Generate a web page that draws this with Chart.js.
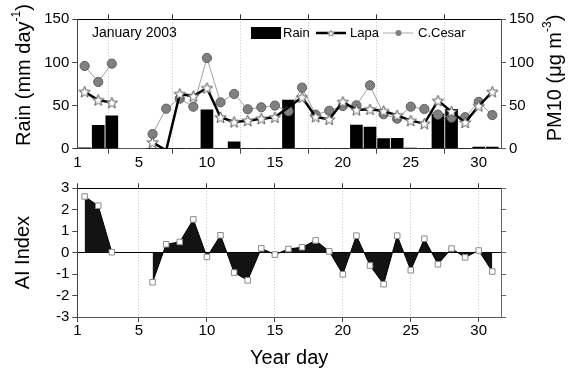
<!DOCTYPE html>
<html>
<head>
<meta charset="utf-8">
<script src="https://cdn.jsdelivr.net/npm/chart.js@4.4.0/dist/chart.umd.min.js"></script>
<style>
  html, body { margin: 0; padding: 0; background: #fff; }
  #wrap { position: relative; width: 572px; height: 378px; }
  .box { position: absolute; left: 0; width: 572px; }
</style>
</head>
<body>
<div id="wrap">
  <div class="box" style="top:0;height:170px"><canvas id="pmChart"></canvas></div>
  <div class="box" style="top:170px;height:208px"><canvas id="aiChart"></canvas></div>
</div>
<script>
// January 2003, one value per day (null = no data)
const days = [1,2,3,4,5,6,7,8,9,10,11,12,13,14,15,16,17,18,19,20,21,22,23,24,25,26,27,28,29,30,31];
const rain = [1, 27, 38, null, null, 0, 0, 0, 0, 45, 0, 8, 0, 0, 0, 56.5,
              0, 0, 0, 0, 27.5, 25, 11.6, 12, 0.5, 0, 40, 45.7, 0, 2, 2];
const lapa = [66, 56.5, 53.4, null, null, 7.4, -2, 63.5, 61, 70.4, 36.4, 31, 32.5, 34.8, 36.4, null,
              59.6, 37, 34, 54.3, 45, 45.7, 43.7, 38.7, 32.5, 29, 55.7, 43, 30.5, 49.5, 66];
const cesar = [95.9, 77.4, 98.6, null, null, 17, 46.4, 58, 48.7, 105.2, 53.8, 63.5, 45.7, 48, 50, 43.4,
               70.8, 39.5, 44, 49.5, 50.3, 73.5, 40, 34.8, 48.7, 46, 39.5, 36, 36.5, 54.3, 39];
const aiIndex = [2.62, 2.19, 0.02, null, null, -1.38, 0.39, 0.5, 1.55, -0.2, 0.81, -0.93, -1.29, 0.2, -0.09, 0.17,
                 0.25, 0.57, 0.06, -1.01, 0.79, -0.6, -1.47, 0.79, -0.82, 0.65, -0.54, 0.19, -0.22, 0.1, -0.88];

const X_MIN = 0.46, X_MAX = 31.64;
const xTickValues = [X_MIN, 5, 10, 15, 20, 25, 30];
const xTickLabels = ['1', '5', '10', '15', '20', '25', '30'];
const pmTicks = [0, 50, 100, 150];
const aiTicks = [-3, -2, -1, 0, 1, 2, 3];

const FONT = '"Liberation Sans", Arial, Helvetica, sans-serif';
const pts = (vals) => days.map((d, i) => ({ x: d, y: vals[i] }));

function makeStar(r, fill, stroke) {
  const s = Math.ceil(r * 2 + 3);
  const c = document.createElement('canvas');
  c.width = c.height = s;
  const g = c.getContext('2d');
  g.beginPath();
  for (let i = 0; i < 10; i++) {
    const rr = i % 2 ? r * 0.42 : r;
    const a = -Math.PI / 2 + i * Math.PI / 5;
    g.lineTo(s / 2 + rr * Math.cos(a), s / 2 + 0.5 + rr * Math.sin(a));
  }
  g.closePath();
  g.fillStyle = fill; g.fill();
  g.lineWidth = 1; g.strokeStyle = stroke; g.stroke();
  return c;
}
const starBig = makeStar(6, '#fff', '#555');
const starSmall = makeStar(3.5, '#fff', '#999');

function setTicks(values) {
  return s => { s.ticks = values.map(v => ({ value: v })); };
}

// rotated (bottom-to-top) title with a superscript part
function drawVTitle(ctx, parts, cx, cy, size) {
  ctx.save();
  ctx.translate(cx, cy);
  ctx.rotate(-Math.PI / 2);
  const base = size + 'px ' + FONT, sup = Math.round(size * 0.6) + 'px ' + FONT;
  let total = 0;
  parts.forEach(p => { ctx.font = p[1] ? sup : base; total += ctx.measureText(p[0]).width; });
  let x = -total / 2;
  ctx.fillStyle = '#000';
  ctx.textBaseline = 'alphabetic';
  parts.forEach(p => {
    ctx.font = p[1] ? sup : base;
    ctx.fillText(p[0], x, p[1] ? size * 0.35 - size * 0.5 : size * 0.35);
    x += ctx.measureText(p[0]).width;
  });
  ctx.restore();
}

const pmDecor = {
  id: 'pmDecor',
  afterDraw(chart) {
    const ctx = chart.ctx, ds = chart.data.datasets;
    drawVTitle(ctx, [['Rain (mm day', 0], ['-1', 1], [')', 0]], 23, 75, 20);
    drawVTitle(ctx, [['PM10 (\u03bcg m', 0], ['-3', 1], [')', 0]], 554, 78, 20);
    ctx.save();
    ctx.font = '14px ' + FONT;
    ctx.fillStyle = '#000';
    ctx.textBaseline = 'middle';
    ctx.fillText('January 2003', 92, 33);
    ctx.font = '13px ' + FONT;
    const y = 33;
    ctx.fillRect(251, 27, 30, 12);
    ctx.fillText(ds[0].label, 283, y);
    ctx.strokeStyle = '#000'; ctx.lineWidth = 2.5;
    ctx.beginPath(); ctx.moveTo(316, y); ctx.lineTo(346, y); ctx.stroke();
    ctx.drawImage(starSmall, 331 - starSmall.width / 2, y - starSmall.height / 2);
    ctx.fillText(ds[1].label, 350, y);
    ctx.strokeStyle = '#aaa'; ctx.lineWidth = 1;
    ctx.beginPath(); ctx.moveTo(383, y); ctx.lineTo(413, y); ctx.stroke();
    ctx.fillStyle = '#808080';
    ctx.beginPath(); ctx.arc(398.5, y, 3, 0, Math.PI * 2); ctx.fill();
    ctx.fillStyle = '#000';
    ctx.fillText(ds[2].label, 418, y);
    ctx.restore();
  }
};

const xBottom = (h, title) => ({
  type: 'linear', position: 'bottom', min: X_MIN, max: X_MAX, offset: false,
  afterBuildTicks: setTicks(xTickValues),
  afterFit: s => { s.height = h; },
  ticks: { font: { family: FONT, size: 15 }, color: '#000', padding: 0, maxRotation: 0,
           callback: (v, i) => xTickLabels[i] },
  grid: { color: '#c4c4c4', drawOnChartArea: true, tickLength: 5, tickColor: '#444', tickBorderDash: [] },
  border: { color: '#555', dash: [1, 2] },
  title: title
});
const xTop = h => ({
  type: 'linear', position: 'top', axis: 'x', min: X_MIN, max: X_MAX, offset: false,
  afterBuildTicks: setTicks(xTickValues),
  afterFit: s => { s.height = h; },
  ticks: { display: false },
  grid: { drawOnChartArea: false, tickLength: 5, tickColor: '#333' },
  border: { color: '#000' }
});

new Chart(document.getElementById('pmChart'), {
  type: 'bar',
  data: {
    datasets: [
      {
        type: 'bar', label: 'Rain', data: pts(rain), yAxisID: 'y',
        backgroundColor: '#000', borderWidth: 0, barThickness: 12, order: 3
      },
      {
        type: 'line', label: 'Lapa', data: pts(lapa).filter(p => p.y !== null), yAxisID: 'y1',
        borderColor: '#000', borderWidth: 2.5, spanGaps: 2, tension: 0,
        pointStyle: starBig, pointRadius: c => (c.raw && c.raw.y < 0 ? 0 : 5), order: 1
      },
      {
        type: 'line', label: 'C.Cesar', data: pts(cesar), yAxisID: 'y1',
        borderColor: '#a0a0a0', borderWidth: 1, spanGaps: false, tension: 0,
        pointRadius: 4.6, pointBackgroundColor: '#808080', pointBorderColor: '#5e5e5e',
        pointBorderWidth: 1, order: 2
      }
    ]
  },
  options: {
    responsive: true,
    maintainAspectRatio: false,
    animation: false,
    layout: { padding: 0 },
    scales: {
      x: xBottom(21.3, { display: false }),
      x2: xTop(19.3),
      y: {
        position: 'left', min: 0, max: 150,
        afterBuildTicks: setTicks(pmTicks),
        afterFit: s => { s.width = 77.3; },
        ticks: { font: { family: FONT, size: 15 }, color: '#000', padding: 3 },
        grid: { drawOnChartArea: false, tickLength: 5, tickColor: '#444' },
        border: { color: '#444' }
      },
      y1: {
        position: 'right', min: 0, max: 150,
        afterBuildTicks: setTicks(pmTicks),
        afterFit: s => { s.width = 71; },
        ticks: { font: { family: FONT, size: 15 }, color: '#000', padding: 3 },
        grid: { drawOnChartArea: false, tickLength: 5, tickColor: '#555' },
        border: { color: '#555' }
      }
    },
    plugins: { legend: { display: false }, tooltip: { enabled: false } }
  },
  plugins: [pmDecor]
});

new Chart(document.getElementById('aiChart'), {
  type: 'line',
  data: {
    datasets: [{
      label: 'AI Index', data: pts(aiIndex),
      borderColor: '#000', borderWidth: 1, tension: 0, spanGaps: false,
      fill: 'origin', backgroundColor: '#131313',
      pointStyle: 'rect', pointRadius: 3.9, pointBackgroundColor: '#fff',
      pointBorderColor: '#8a8a8a', pointBorderWidth: 1
    }]
  },
  options: {
    responsive: true,
    maintainAspectRatio: false,
    animation: false,
    layout: { padding: 0 },
    scales: {
      x: xBottom(61, { display: true, text: 'Year day', color: '#000',
                       font: { family: FONT, size: 20 }, padding: { top: 0, bottom: 8 } }),
      x2: xTop(18.3),
      y: {
        position: 'left', min: -3, max: 3,
        afterBuildTicks: setTicks(aiTicks),
        afterFit: s => { s.width = 77.3; },
        ticks: { font: { family: FONT, size: 15 }, color: '#000', padding: 3 },
        grid: { drawOnChartArea: true, tickLength: 5, tickColor: '#444',
                color: c => (c.tick && c.tick.value === 0 ? '#000' : 'rgba(0,0,0,0)') },
        border: { color: '#444' },
        title: { display: true, text: 'AI Index', color: '#000',
                 font: { family: FONT, size: 20 }, padding: { top: 11, bottom: 0 } }
      },
      y1: {
        position: 'right', min: -3, max: 3,
        afterBuildTicks: setTicks(aiTicks),
        afterFit: s => { s.width = 71; },
        ticks: { display: false },
        grid: { drawOnChartArea: false, tickLength: 5, tickColor: '#666' },
        border: { color: '#666' }
      }
    },
    plugins: { legend: { display: false }, tooltip: { enabled: false } }
  }
});
</script>
</body>
</html>
